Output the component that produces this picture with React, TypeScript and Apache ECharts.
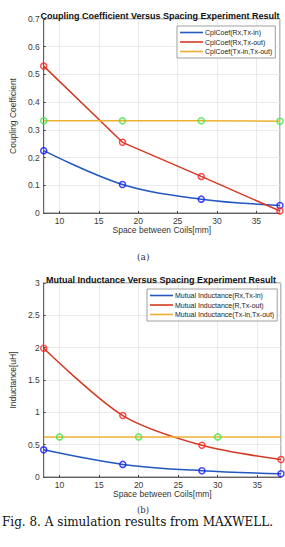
import React, { useEffect, useRef } from "react";
import * as echarts from "echarts";

const spacingA = [8, 18, 28, 38];
const cplRxTxIn = [0.225, 0.103, 0.05, 0.027];
const cplRxTxOut = [0.53, 0.255, 0.132, 0.007];
const cplTxInTxOut = [0.333, 0.333, 0.333, 0.331];

const spacingB = [8, 18, 28, 38];
const mutRxTxIn = [0.42, 0.195, 0.097, 0.05];
const mutRTxOut = [1.99, 0.95, 0.49, 0.27];
const mutTxInTxOutX = [8, 38];
const mutTxInTxOut = [0.62, 0.62];
const mutMarkerX = [10, 20, 30];
const mutMarkerY = [0.62, 0.62, 0.62];

const legendA = ["CplCoef(Rx,Tx-in)", "CplCoef(Rx,Tx-out)", "CplCoef(Tx-in,Tx-out)"];
const legendB = ["Mutual Inductance(Rx,Tx-in)", "Mutual Inductance(R,Tx-out)", "Mutual Inductance(Tx-in,Tx-out)"];

const BLUE = "#2258c0";
const RED = "#d23a22";
const YEL = "#eeb030";
const MBLUE = "#1414ff";
const MRED = "#ff2020";
const MGREEN = "#3ce63c";

const zip = (xs: number[], ys: number[]) => xs.map((x, i) => [x, ys[i]]);

export default function App() {
  const ref = useRef<HTMLDivElement>(null);
  useEffect(() => {
    document.body.style.margin = "0";
    const chart = echarts.init(ref.current!, null, { renderer: "svg" });
    const font = "Liberation Sans, Arial, sans-serif";
    const xAxisCommon = (gi: number) => ({
      type: "value",
      gridIndex: gi,
      min: 8,
      max: 38,
      splitNumber: 6,
      name: "Space between Coils[mm]",
      nameLocation: "middle",
      nameGap: 12,
      nameTextStyle: { fontSize: 8.5, color: "#333", fontFamily: font },
      axisLine: { show: true, lineStyle: { color: "#444", width: 0.8 } },
      axisTick: { show: true, inside: true, length: 2, lineStyle: { color: "#444" } },
      axisLabel: { fontSize: 8.5, color: "#3a3a3a", margin: 3, showMinLabel: false, showMaxLabel: false, fontFamily: font },
      splitLine: { show: true, lineStyle: { color: "#e4e4e4", width: 0.8 } },
    });
    const yAxisCommon = (gi: number, max: number, interval: number, name: string, gap: number) => ({
      type: "value",
      gridIndex: gi,
      min: 0,
      max,
      interval,
      name,
      nameLocation: "middle",
      nameGap: gap,
      nameTextStyle: { fontSize: 8.5, color: "#333", fontFamily: font },
      axisLine: { show: true, lineStyle: { color: "#444", width: 0.8 } },
      axisTick: { show: true, inside: true, length: 2, lineStyle: { color: "#444" } },
      axisLabel: { fontSize: 8.5, color: "#3a3a3a", margin: 4, fontFamily: font },
      splitLine: { show: true, lineStyle: { color: "#e4e4e4", width: 0.8 } },
    });
    const lineS = (name: string, data: number[][], color: string, gi: number, smooth: number | boolean) => ({
      type: "line",
      name,
      data,
      xAxisIndex: gi,
      yAxisIndex: gi,
      showSymbol: false,
      symbol: "none",
      smooth,
      itemStyle: { color },
      lineStyle: { color, width: 1.5 },
      z: 2,
    });
    const markS = (data: number[][], color: string, gi: number) => ({
      type: "scatter",
      data,
      xAxisIndex: gi,
      yAxisIndex: gi,
      symbol: "circle",
      symbolSize: 6,
      itemStyle: { color: "rgba(0,0,0,0)", borderColor: color, borderWidth: 1.5 },
      z: 3,
    });
    const legendCommon = {
      orient: "vertical",
      icon: "rect",
      itemWidth: 23,
      itemHeight: 1.6,
      itemGap: 2.5,
      backgroundColor: "#fff",
      borderColor: "#888",
      borderWidth: 0.8,
      borderRadius: 0,
      padding: [3, 3, 3, 3],
      textStyle: { fontSize: 7, color: "#222", padding: [0, 0, 0, -3], fontFamily: font },
    };
    chart.setOption({
      animation: false,
      backgroundColor: "#fff",
      title: [
        {
          text: "Coupling Coefficient Versus Spacing Experiment Result",
          left: 155,
          textAlign: "center",
          top: 6,
          textStyle: { fontSize: 9, fontWeight: "bold", color: "#111", fontFamily: font },
        },
        {
          text: "Mutual Inductance Versus Spacing Experiment Result",
          left: 156,
          textAlign: "center",
          top: 270,
          textStyle: { fontSize: 9, fontWeight: "bold", color: "#111", fontFamily: font },
        },
      ],
      legend: [
        { ...legendCommon, data: legendA, left: 177, top: 26, width: 97 },
        { ...legendCommon, data: legendB, left: 147, top: 289, width: 128 },
      ],
      grid: [
        { left: 31, top: 19, width: 249, height: 194, show: true, borderColor: "#555", borderWidth: 0.8, backgroundColor: "#fff" },
        { left: 29, top: 283, width: 252, height: 194, show: true, borderColor: "#555", borderWidth: 0.8, backgroundColor: "#fff" },
      ],
      xAxis: [xAxisCommon(0), xAxisCommon(1)],
      yAxis: [
        yAxisCommon(0, 0.7, 0.1, "Coupling Coefficient", 18),
        yAxisCommon(1, 3, 0.5, "Inductance[uH]", 20),
      ],
      series: [
        lineS(legendA[0], zip(spacingA, cplRxTxIn), BLUE, 0, 0.35),
        lineS(legendA[1], zip(spacingA, cplRxTxOut), RED, 0, false),
        lineS(legendA[2], zip(spacingA, cplTxInTxOut), YEL, 0, false),
        markS(zip(spacingA, cplRxTxIn), MBLUE, 0),
        markS(zip(spacingA, cplRxTxOut), MRED, 0),
        markS(zip(spacingA, cplTxInTxOut), MGREEN, 0),
        lineS(legendB[0], zip(spacingB, mutRxTxIn), BLUE, 1, 0.35),
        lineS(legendB[1], zip(spacingB, mutRTxOut), RED, 1, 0.3),
        lineS(legendB[2], zip(mutTxInTxOutX, mutTxInTxOut), YEL, 1, false),
        markS(zip(spacingB, mutRxTxIn), MBLUE, 1),
        markS(zip(spacingB, mutRTxOut), MRED, 1),
        markS(zip(mutMarkerX, mutMarkerY), MGREEN, 1),
      ],
      graphic: [
        { type: "text", left: 137, top: 252, style: { text: "(a)", fontSize: 9, fontFamily: "DejaVu Serif, serif", fill: "#333" } },
        { type: "text", left: 137, top: 505, style: { text: "(b)", fontSize: 8.5, fontFamily: "DejaVu Serif, serif", fill: "#333" } },
        {
          type: "text",
          left: 2,
          top: 516,
          style: { text: "Fig. 8. A simulation results from MAXWELL.", fontSize: 12, fontFamily: "DejaVu Serif, serif", fill: "#111" },
        },
      ],
    });
    return () => chart.dispose();
  }, []);
  return <div ref={ref} style={{ width: 285, height: 547 }} />;
}
